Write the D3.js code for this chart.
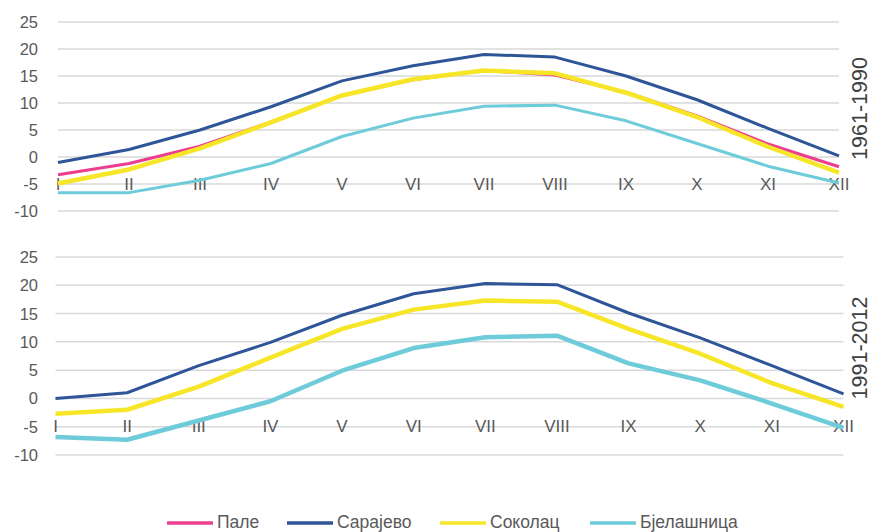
<!DOCTYPE html>
<html><head><meta charset="utf-8">
<script src="https://cdn.jsdelivr.net/npm/d3@7"></script>
<style>body{margin:0;background:#fff}svg{display:block}</style>
</head><body><svg id="c" width="872" height="532"></svg>
<script>
const months = ["I","II","III","IV","V","VI","VII","VIII","IX","X","XI","XII"];
const yTicks = [25,20,15,10,5,0,-5,-10];
const seriesNames = ["Пале","Сарајево","Соколац","Бјелашница"];
const seriesColors = ["#EC3D8F","#2E5597","#F7E627","#6DCBDA"];
const periodLabels = ["1961-1990","1991-2012"];

// 1961-1990
const pale1 = [-3.3,-1.2,2.0,6.5,11.4,14.3,16.0,15.2,12.0,7.6,2.4,-1.8];
const sarajevo1 = [-1.0,1.4,5.0,9.3,14.1,16.9,19.0,18.5,15.0,10.6,5.3,0.2];
const sokolac1 = [-4.9,-2.3,1.6,6.4,11.4,14.4,16.0,15.5,11.9,7.4,1.9,-2.9];
const bjelasnica1 = [-6.6,-6.6,-4.3,-1.2,3.8,7.2,9.4,9.6,6.7,2.5,-1.7,-4.8];
// 1991-2012
const sarajevo2 = [0.0,1.0,5.8,9.9,14.7,18.5,20.3,20.1,15.1,10.7,5.8,0.8];
const sokolac2 = [-2.7,-2.0,2.1,7.2,12.3,15.7,17.3,17.1,12.3,7.9,2.7,-1.5];
const bjelasnica2 = [-6.8,-7.3,-3.9,-0.5,4.9,8.9,10.8,11.1,6.2,3.2,-0.9,-5.2];

const svg = d3.select("#c");
const font = "'Liberation Sans', Arial, sans-serif";

function panel(cfg){
  const x = d3.scalePoint().domain(months).range([cfg.x0, cfg.x1]);
  const y = d3.scaleLinear().domain([-10,25]).range([cfg.yb, cfg.yt]);
  const g = svg.append("g");
  g.selectAll("line.grid").data(yTicks).join("line")
    .attr("x1", cfg.x0).attr("x2", cfg.x1)
    .attr("y1", d=>y(d)).attr("y2", d=>y(d))
    .attr("stroke","#D9D9D9").attr("stroke-width",1.5);
  g.selectAll("text.yl").data(yTicks).join("text")
    .attr("x", 38).attr("y", d=>y(d)).attr("text-anchor","end")
    .attr("dominant-baseline","central")
    .attr("font-family",font).attr("font-size",16.5).attr("fill","#595959")
    .text(d=>d);
  g.selectAll("text.xl").data(months).join("text")
    .attr("x", d=>x(d)).attr("y", y(-5)).attr("text-anchor","middle")
    .attr("dominant-baseline","central")
    .attr("font-family",font).attr("font-size",17).attr("fill","#595959")
    .text(d=>d);
  const line = d3.line().x((d,i)=>x(months[i])).y(d=>y(d));
  cfg.series.forEach(s=>{
    g.append("path").datum(s.values).attr("d", line)
      .attr("fill","none").attr("stroke", seriesColors[s.idx])
      .attr("stroke-width", s.w).attr("stroke-linejoin","round");
  });
  g.append("text")
    .attr("transform",`translate(${cfg.lx},${(cfg.yt+cfg.yb)/2 - 8}) rotate(-90)`)
    .attr("text-anchor","middle").attr("dominant-baseline","central")
    .attr("font-family",font).attr("font-size",21.5).attr("fill","#404040")
    .text(cfg.label);
}

panel({x0:58,x1:839,yt:22,yb:211,lx:859.5,label:periodLabels[0],series:[
  {idx:3,values:bjelasnica1,w:3},
  {idx:1,values:sarajevo1,w:3},
  {idx:0,values:pale1,w:3},
  {idx:2,values:sokolac1,w:4.5}
]});
panel({x0:55.5,x1:843.5,yt:257,yb:455,lx:859.5,label:periodLabels[1],series:[
  {idx:1,values:sarajevo2,w:3},
  {idx:2,values:sokolac2,w:4.5},
  {idx:3,values:bjelasnica2,w:4.5}
]});

// legend
const legX = [167,287,440,590];
const lg = svg.append("g");
seriesNames.forEach((n,i)=>{
  lg.append("line").attr("x1",legX[i]).attr("x2",legX[i]+46)
    .attr("y1",523).attr("y2",523)
    .attr("stroke",seriesColors[i]).attr("stroke-width",3.5);
  lg.append("text").attr("x",legX[i]+50).attr("y",527.5)
    .attr("font-family",font).attr("font-size",17.5).attr("fill","#595959")
    .text(n);
});
</script></body></html>
